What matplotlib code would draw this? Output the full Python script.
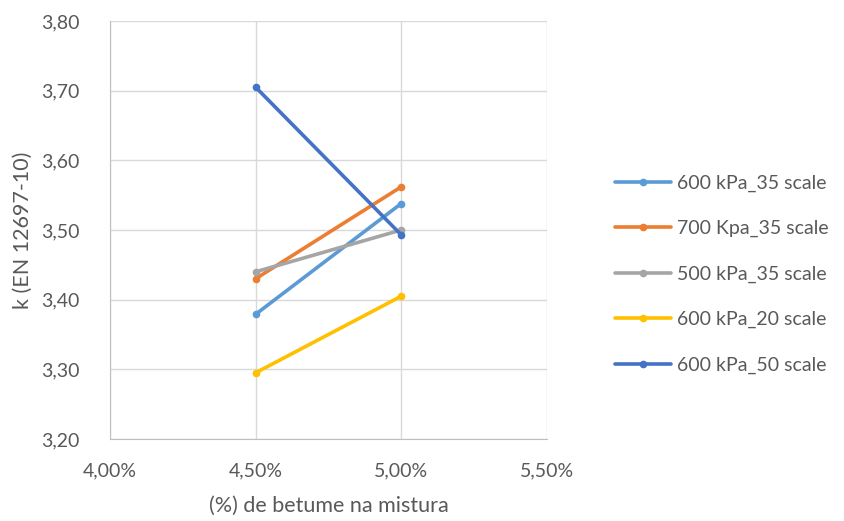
import matplotlib.pyplot as plt
from matplotlib.ticker import FuncFormatter, MultipleLocator

plt.rcParams['font.family'] = ['Lato', 'DejaVu Sans']

# binder content (%) and k values (EN 12697-10)
teor = [4.5, 5.0]
series_names = ['600 kPa_35 scale', '700 Kpa_35 scale', '500 kPa_35 scale',
                '600 kPa_20 scale', '600 kPa_50 scale']
k_600_35 = [3.379, 3.538]
k_700_35 = [3.430, 3.562]
k_500_35 = [3.440, 3.500]
k_600_20 = [3.295, 3.405]
k_600_50 = [3.705, 3.493]
colors = ['#5B9BD5', '#ED7D31', '#A5A5A5', '#FFC000', '#4472C4']

fig = plt.figure(figsize=(8.44, 5.21), dpi=100)
ax = fig.add_axes([0.1303, 0.1574, 0.5177, 0.8023])

for name, vals, c in zip(series_names, [k_600_35, k_700_35, k_500_35, k_600_20, k_600_50], colors):
    ax.plot(teor, vals, color=c, lw=2.6, marker='o', ms=4.5, label=name,
            solid_capstyle='round')

ax.set_xlim(4.0, 5.5)
ax.set_ylim(3.2, 3.8)
ax.xaxis.set_major_locator(MultipleLocator(0.5))
ax.yaxis.set_major_locator(MultipleLocator(0.1))
ax.xaxis.set_major_formatter(FuncFormatter(lambda v, p: f'{v:.2f}%'.replace('.', ',')))
ax.yaxis.set_major_formatter(FuncFormatter(lambda v, p: f'{v:.2f}'.replace('.', ',')))

ax.grid(True, color='#D9D9D9', lw=1)
ax.set_axisbelow(True)
for side in ['top', 'right']:
    ax.spines[side].set_visible(False)
for side in ['left', 'bottom']:
    ax.spines[side].set_color('#BFBFBF')
ax.tick_params(length=0, labelsize=14, colors='#595959')
ax.tick_params(axis='y', pad=22)
ax.tick_params(axis='x', pad=17)

ax.set_xlabel('(%) de betume na mistura', fontsize=15.5, color='#595959', labelpad=12)
ax.set_ylabel('k (EN 12697-10)', fontsize=15.5, color='#595959', labelpad=6)

fig.legend(loc='center left', bbox_to_anchor=(0.729, 0.474), frameon=False,
           fontsize=14, labelcolor='#595959', handlelength=2.85, handletextpad=0.3,
           labelspacing=1.45, numpoints=1, borderpad=0, borderaxespad=0)

fig.savefig('out.png', dpi=100)
